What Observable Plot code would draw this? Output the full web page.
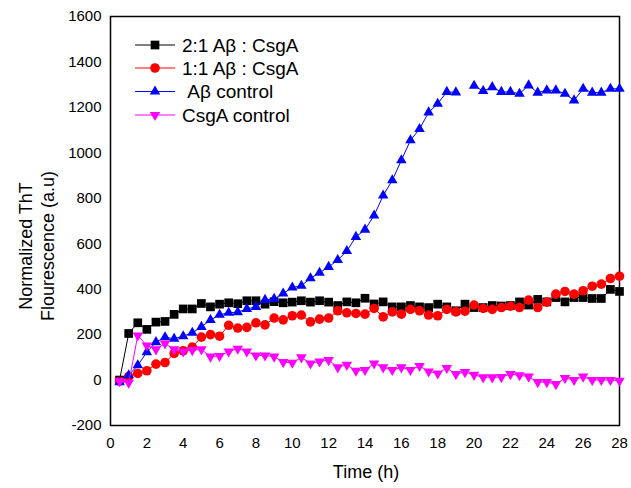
<!DOCTYPE html>
<html><head><meta charset="utf-8">
<script src="https://cdn.jsdelivr.net/npm/d3@7"></script>
<script src="https://cdn.jsdelivr.net/npm/@observablehq/plot@0.6"></script>
<style>body{margin:0;background:#fff;}</style>
</head><body><div id="chart"></div>
<script>
// Time points (h)
const hours = [0.5,1,1.5,2,2.5,3,3.5,4,4.5,5,5.5,6,6.5,7,7.5,8,8.5,9,9.5,10,10.5,11,11.5,12,12.5,13,13.5,14,14.5,15,15.5,16,16.5,17,17.5,18,18.5,19,19.5,20,20.5,21,21.5,22,22.5,23,23.5,24,24.5,25,25.5,26,26.5,27,27.5,28];
// 2:1 Aβ : CsgA
const ratio21 = [0,205,252,223,255,258,289,313,313,337,322,334,340,336,349,349,334,345,340,343,349,343,349,343,328,344,340,360,335,344,322,322,328,322,319,334,322,305,334,319,319,328,326,328,344,330,355,344,363,344,363,363,359,359,399,390];
// 1:1 Aβ : CsgA
const ratio11 = [-5,15,29,41,70,77,117,129,145,189,200,193,241,229,232,252,243,273,265,283,286,256,268,273,305,296,293,290,315,278,300,290,311,305,286,283,311,300,303,330,315,311,319,325,319,352,319,343,378,390,378,393,413,422,447,457];
// Aβ control (no reading at 19.5 h)
const abControl = [-10,21,65,123,167,188,182,193,208,234,264,287,296,299,313,322,353,357,381,407,415,448,472,498,528,568,630,662,724,812,879,967,1055,1105,1178,1216,1268,1266,null,1295,1272,1289,1268,1268,1260,1297,1265,1275,1275,1260,1231,1282,1265,1265,1282,1282];
// CsgA control
const csgaControl = [-5,-12,196,152,135,161,135,126,132,135,103,106,126,138,126,108,108,103,79,76,100,73,82,88,56,67,41,44,73,56,44,56,44,62,38,29,53,26,35,23,12,12,13,26,21,15,-9,-9,-18,9,0,15,0,0,0,-3];

const seriesNames = ["2:1 Aβ : CsgA", "1:1 Aβ : CsgA", "\u00A0Aβ control", "CsgA control"];
const seriesValues = [ratio21, ratio11, abControl, csgaControl];
const xTicks = [0,2,4,6,8,10,12,14,16,18,20,22,24,26,28];
const yTicks = [-200,0,200,400,600,800,1000,1200,1400,1600];

const styles = [
  {color:"#000000", symbol:"square", r:4.9, rotate:0},
  {color:"#ff0000", symbol:"circle", r:4.8, rotate:0},
  {color:"#0000ff", symbol:"triangle", r:3.9, rotate:0},
  {color:"#ff00ff", symbol:"triangle", r:3.9, rotate:180}
];

const marks = [Plot.frame({stroke:"black", strokeWidth:1.5})];
seriesValues.forEach((vals, k) => {
  const rows = hours.map((t, i) => ({t, v: vals[i], s: seriesNames[k]}));
  const st = styles[k];
  marks.push(Plot.line(rows, {x:"t", y:"v", stroke: st.color, strokeWidth: 1}));
  marks.push(Plot.dot(rows.filter(d => d.v != null), {x:"t", y:"v", symbol: st.symbol, r: st.r, fill: st.color, stroke: "none", rotate: st.rotate}));
});

const W = 631, H = 488;
const chart = Plot.plot({
  width: W, height: H,
  marginLeft: 110, marginRight: 12, marginTop: 16, marginBottom: 63,
  style: {fontFamily: "Arial, 'Liberation Sans', sans-serif", fontSize: "15px", color: "black", background: "white"},
  x: {domain: [0, 28], ticks: xTicks, tickSize: 0, tickPadding: 12, label: null, tickFormat: d => String(d)},
  y: {domain: [-200, 1600], ticks: yTicks, tickSize: 0, tickPadding: 9, label: null, tickFormat: d => String(d)},
  marks
});
document.getElementById("chart").appendChild(chart);

const svg = d3.select(chart);
const font = "Arial, 'Liberation Sans', sans-serif";
// axis titles
svg.append("text").attr("x", 366).attr("y", 478).attr("text-anchor", "middle")
  .attr("font-family", font).attr("font-size", 18).attr("fill", "black").text("Time (h)");
const yTitle = ["Normalized ThT", "Flourescence (a.u)"];
yTitle.forEach((t, i) => {
  svg.append("text").attr("transform", `translate(${32 + i * 22},246) rotate(-90)`)
    .attr("text-anchor", "middle").attr("font-family", font).attr("font-size", 18)
    .attr("fill", "black").text(t);
});
// legend
const lg = svg.append("g");
const rowY = [45, 68, 91.5, 115];
seriesNames.forEach((name, k) => {
  const st = styles[k];
  const y = rowY[k];
  lg.append("line").attr("x1", 135).attr("x2", 175).attr("y1", y).attr("y2", y)
    .attr("stroke", st.color).attr("stroke-width", 1);
  const sym = st.symbol === "square" ? d3.symbolSquare : st.symbol === "circle" ? d3.symbolCircle : d3.symbolTriangle;
  lg.append("path").attr("d", d3.symbol(sym, st.r * st.r * Math.PI)())
    .attr("transform", `translate(155,${y}) rotate(${st.rotate})`).attr("fill", st.color);
  lg.append("text").attr("x", 182).attr("y", y + 6.5).attr("text-anchor", "start")
    .attr("font-family", font).attr("font-size", 19).attr("fill", "black")
    .style("white-space", "pre").text(name);
});
</script>
</body></html>
